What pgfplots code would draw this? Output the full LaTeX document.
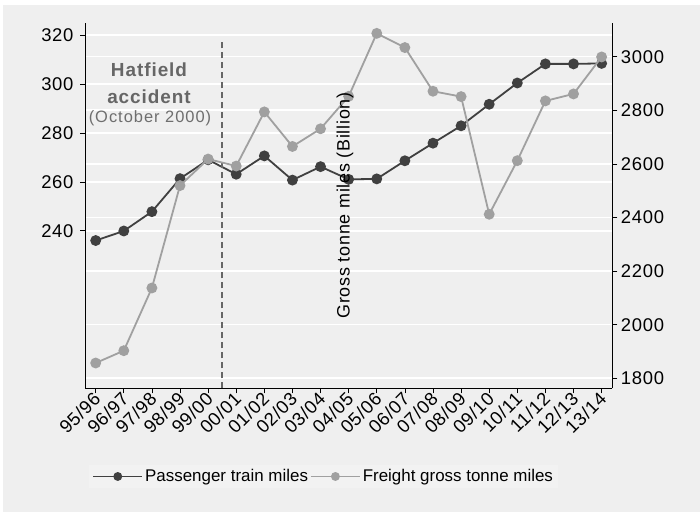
\documentclass[border=0pt]{standalone}
\usepackage{fontspec}
\setmainfont{Liberation Sans}
\newfontfamily\spaced[LetterSpace=5]{Liberation Sans}
\newfontfamily\spacedb[LetterSpace=6]{Liberation Sans}
\newfontfamily\spacedt[LetterSpace=4]{Liberation Sans}
\usepackage{pgfplots}
\pgfplotsset{compat=1.18}
\definecolor{bg}{RGB}{239,239,239}
\definecolor{pas}{RGB}{64,64,64}
\definecolor{fre}{RGB}{160,160,160}
\definecolor{dashc}{RGB}{102,102,102}
\definecolor{legbg}{RGB}{242,242,242}
\pgfplotstableread{
x pas fre
0 236.0 1857
1 239.9 1903
2 247.8 2137
3 261.3 2519
4 269.0 2618
5 263.1 2592
6 270.6 2794
7 260.7 2665
8 266.2 2731
9 261.0 2852
10 261.2 3087
11 268.6 3034
12 275.8 2871
13 282.9 2851
14 291.7 2412
15 300.4 2612
16 308.2 2835
17 308.2 2861
18 308.4 2999
}\data
\pgfplotsset{
  base/.style={
    at={(85bp,124.7bp)}, anchor=south west,
    width=527.3bp, height=365bp, scale only axis,
    xmin=-0.38, xmax=18.38,
    /pgf/number format/assume math mode=true,
    /pgf/number format/1000 sep={},
    scaled ticks=false,
    tick align=outside,
    major tick length=5bp,
    tick style={black, line width=0.6bp},
    axis line style={black, line width=0.8bp},
    ticklabel style={font=\fontsize{18.5}{21}\spacedt},
    grid style={white, line width=1.6bp},
  },
  rightlim/.style={ymin=1762.7, ymax=3124.6, ytick={1800,2000,...,3000}},
}
\begin{document}
\begin{tikzpicture}[x=1bp,y=1bp]
\fill[white] (0,0) rectangle (700,513);
\fill[bg] (3,1) rectangle (700,508);
% right-axis grid only
\begin{axis}[base, rightlim,
  axis line style={draw=none},
  xtick=\empty, yticklabels={}, major tick length=0pt,
  ymajorgrids]
\end{axis}
% left axis with passenger series
\begin{axis}[base,
  ymin=175.6, ymax=324.8,
  ytick={240,260,...,320},
  axis x line*=bottom, axis y line*=left,
  ymajorgrids,
  xtick={0,...,18},
  xticklabels={95/96,96/97,97/98,98/99,99/00,00/01,01/02,02/03,03/04,04/05,05/06,06/07,07/08,08/09,09/10,10/11,11/12,12/13,13/14},
  xticklabel style={rotate=45, anchor=east, font=\fontsize{18.5}{21}\spacedt, xshift=3bp, yshift=-2.5bp},
  yticklabel style={xshift=-3bp},
  legend columns=2,
  legend style={at={(0.4526,-0.2416)}, anchor=center, draw=none, fill=legbg,
    font=\fontsize{17}{20}\selectfont, column sep=0pt, inner sep=3bp},
  legend cell align=left,
  legend image code/.code={\draw[#1, mark repeat=2, mark phase=2, mark size=3.5bp] plot coordinates {(0bp,0bp) (24.5bp,0bp) (49bp,0bp)};},
  ]
\addplot[pas, line width=1.8bp, mark=*, mark size=4.5bp, mark options={solid}] table[x=x, y=pas] {\data};
\addlegendentry{Passenger train miles}
\addlegendimage{fre, line width=1.8bp, mark=*}
\addlegendentry{Freight gross tonne miles}
\draw[dashc, line width=1.8bp, dash pattern=on 6.5bp off 3.5bp] (axis cs:4.48,175.6) -- (axis cs:4.48,317.1);
\end{axis}
% right axis with freight series
\begin{axis}[base, rightlim,
  axis x line=none, axis y line*=right]
\addplot[fre, line width=1.8bp, mark=*, mark size=4.5bp] table[x=x, y=fre] {\data};
\end{axis}
\node[text=dashc, font=\fontsize{19}{21}\spaced\bfseries] at (149,443) {Hatfield};
\node[text=dashc, font=\fontsize{19}{21}\spaced\bfseries] at (149,416) {accident};
\node[text={rgb,255:red,110;green,110;blue,110}, font=\fontsize{16.5}{18}\spacedb] at (150,395) {(October 2000)};
\node[rotate=90, font=\fontsize{18}{20}\spacedt] at (345,307.5) {Gross tonne miles (Billion)};
\pgfresetboundingbox
\path[use as bounding box] (0,0) rectangle (700,513);
\end{tikzpicture}
\end{document}
